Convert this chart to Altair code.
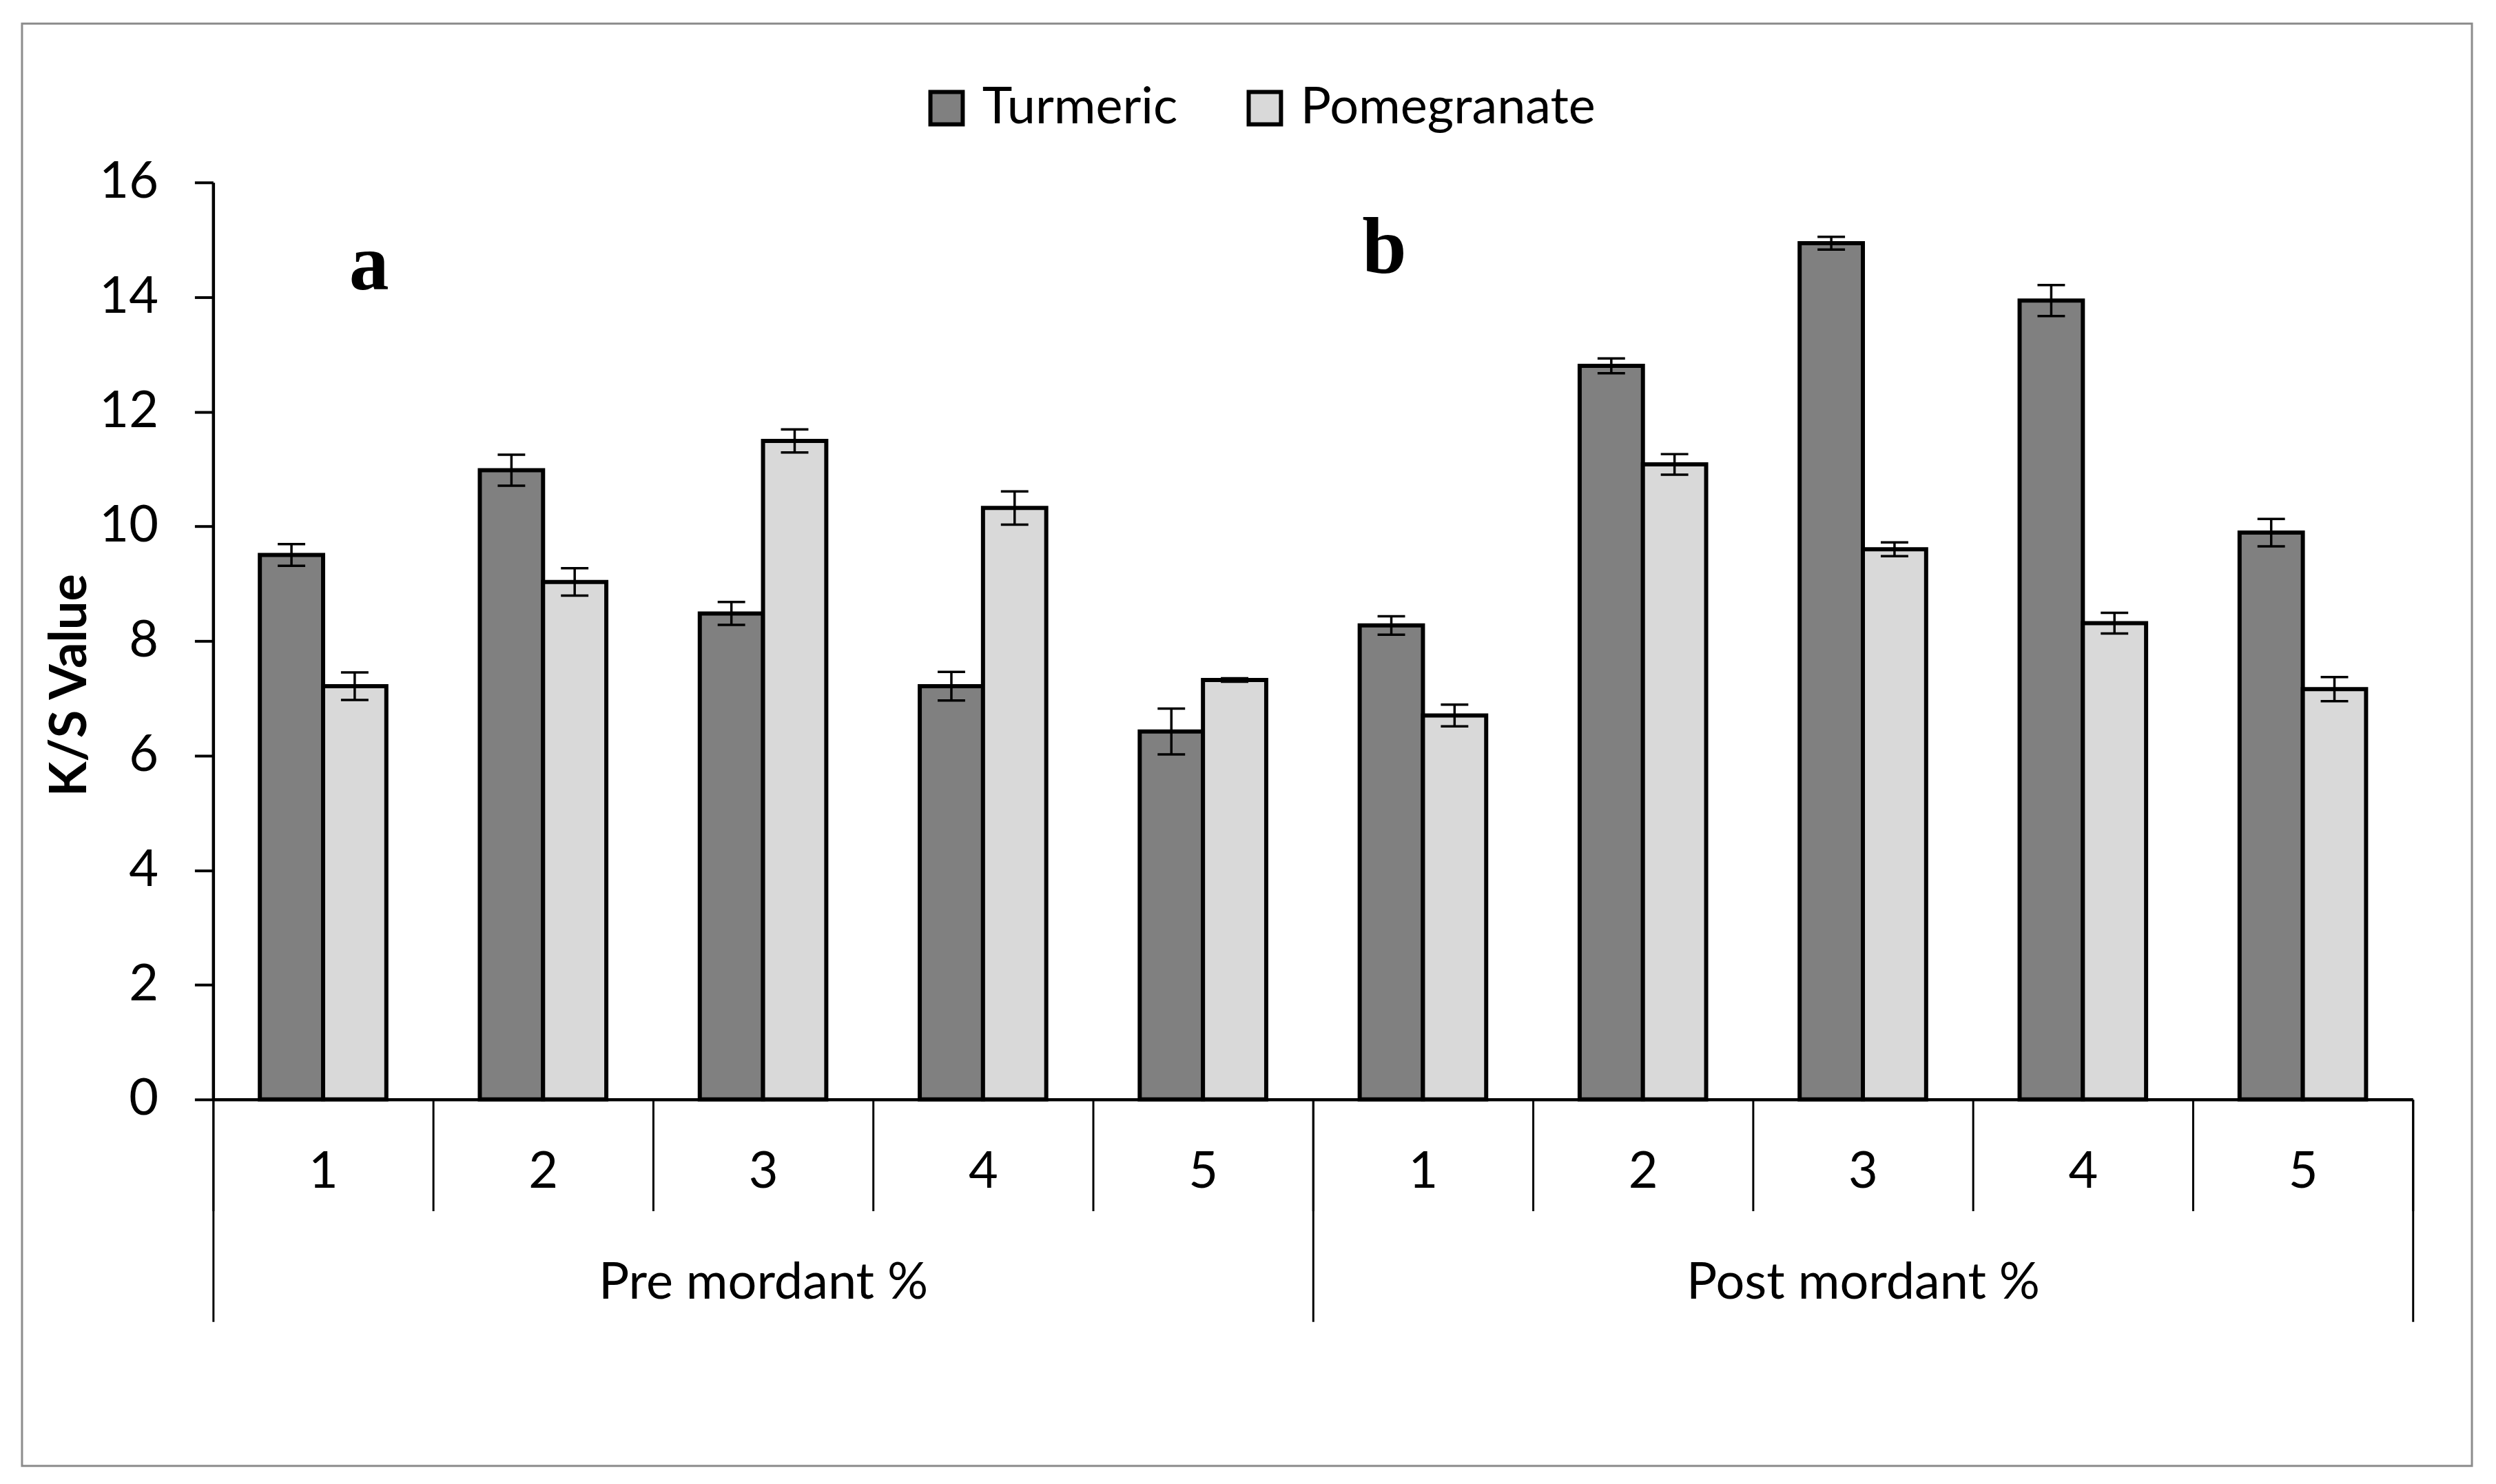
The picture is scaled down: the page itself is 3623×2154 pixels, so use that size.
import altair as alt
import pandas as pd

# ---- data ----
groups = ["Pre mordant %", "Post mordant %"]
levels = ["1", "2", "3", "4", "5"]
series = ["Turmeric", "Pomegranate"]
colors = ["#808080", "#D9D9D9"]

turmeric_pre = [9.50, 10.98, 8.48, 7.21, 6.42]
turmeric_pre_err = [0.19, 0.27, 0.20, 0.25, 0.40]
pomegranate_pre = [7.21, 9.03, 11.49, 10.32, 7.32]
pomegranate_pre_err = [0.24, 0.24, 0.20, 0.29, 0.03]

turmeric_post = [8.27, 12.80, 14.94, 13.94, 9.89]
turmeric_post_err = [0.16, 0.13, 0.11, 0.27, 0.24]
pomegranate_post = [6.70, 11.08, 9.60, 8.31, 7.16]
pomegranate_post_err = [0.19, 0.18, 0.12, 0.18, 0.21]

y_ticks = [0, 2, 4, 6, 8, 10, 12, 14, 16]
panel_labels = ["a", "b"]
panel_label_y = [14.14, 14.42]
panel_label_pos = [0.709, 0.325]

# ---- tables ----
values = {
    ("Pre mordant %", "Turmeric"): (turmeric_pre, turmeric_pre_err),
    ("Pre mordant %", "Pomegranate"): (pomegranate_pre, pomegranate_pre_err),
    ("Post mordant %", "Turmeric"): (turmeric_post, turmeric_post_err),
    ("Post mordant %", "Pomegranate"): (pomegranate_post, pomegranate_post_err),
}
cat_order = [f"{g}|{l}" for g in groups for l in levels]
rows = []
for g in groups:
    for s in series:
        vals, errs = values[(g, s)]
        for l, v, e in zip(levels, vals, errs):
            rows.append({"cat": f"{g}|{l}", "group": g, "series": s,
                         "value": v, "lo": v - e, "hi": v + e})
df = pd.DataFrame(rows)

FONT = "Lato"
FS = 74

inner_axis = alt.Axis(
    orient="bottom", labelExpr="split(datum.label, '|')[1]", labelAngle=0,
    labelFont=FONT, labelFontSize=FS, labelColor="black", labelBaseline="middle",
    labelPadding=-56, labelLimit=2000, tickBand="extent", tickSize=162, tickWidth=3,
    tickColor="black", domainColor="black", domainWidth=4.5, grid=False, title=None,
)
group_axis = alt.Axis(
    orient="bottom", labelAngle=0, labelFont=FONT, labelFontSize=FS, labelColor="black",
    labelBaseline="middle", labelPadding=-56, labelLimit=2000, tickBand="extent",
    tickSize=323, tickWidth=3, tickColor="black", domain=False, grid=False, title=None,
)
y_axis = alt.Axis(
    values=y_ticks, labelFont=FONT, labelFontSize=FS, labelColor="black", labelPadding=53,
    tickSize=27, tickWidth=4, tickColor="black", domainColor="black", domainWidth=4.5,
    grid=False, titleFont=FONT, titleFontWeight="bold", titleFontSize=FS, titleColor="black",
    titleX=-207, titleY=731, titleAngle=270, titleAlign="center", titleBaseline="middle",
)

x_scale = alt.Scale(paddingInner=0, paddingOuter=0)
y_scale = alt.Scale(domain=[0, 16], nice=False, zero=True)
xoff = alt.XOffset("series:N", sort=series, scale=alt.Scale(paddingInner=0, paddingOuter=0.739))


def X():
    return alt.X("cat:N", sort=cat_order, scale=x_scale, axis=inner_axis, title=None)


legend = alt.Legend(
    orient="none", legendX=1030, legendY=-145, direction="horizontal", title=None,
    labelFont=FONT, labelFontSize=FS, labelColor="black", labelLimit=2000,
    symbolType="square", symbolSize=2209, symbolStrokeColor="black", symbolStrokeWidth=6,
    symbolOpacity=1, labelOffset=15, columnPadding=89, padding=0, rowPadding=0,
)

bars = alt.Chart(df).mark_bar(stroke="black", strokeWidth=6).encode(
    x=X(), xOffset=xoff,
    y=alt.Y("value:Q", scale=y_scale, axis=y_axis, title="K/S Value"),
    color=alt.Color("series:N", sort=series,
                    scale=alt.Scale(domain=series, range=colors), legend=legend),
)
err_rule = alt.Chart(df).mark_rule(color="black", strokeWidth=3.5).encode(
    x=X(), xOffset=xoff,
    y=alt.Y("lo:Q", scale=y_scale, axis=y_axis, title="K/S Value"), y2="hi:Q",
)
cap_lo = alt.Chart(df).mark_tick(color="black", thickness=3.5, size=40, opacity=1).encode(
    x=X(), xOffset=xoff,
    y=alt.Y("lo:Q", scale=y_scale, axis=y_axis, title="K/S Value"),
)
cap_hi = alt.Chart(df).mark_tick(color="black", thickness=3.5, size=40, opacity=1).encode(
    x=X(), xOffset=xoff,
    y=alt.Y("hi:Q", scale=y_scale, axis=y_axis, title="K/S Value"),
)

ann_layers = []
for i, (lab, yv, pos) in enumerate(zip(panel_labels, panel_label_y, panel_label_pos)):
    adf = pd.DataFrame({"cat": [cat_order[i * 5]], "y": [yv], "label": [lab]})
    ann_layers.append(
        alt.Chart(adf).mark_text(font="Liberation Serif", fontWeight="bold", fontSize=116,
                                 color="black", align="center", baseline="alphabetic").encode(
            x=alt.X("cat:N", sort=cat_order, scale=x_scale, axis=inner_axis, title=None,
                    bandPosition=pos),
            y=alt.Y("y:Q", scale=y_scale, axis=y_axis, title="K/S Value"),
            text="label:N",
        )
    )

frame = alt.Chart(pd.DataFrame({"k": [0]})).mark_rect(
    fillOpacity=0, stroke="#8c8c8c", strokeWidth=3
).encode(x=alt.value(-278), x2=alt.value(3286), y=alt.value(-231), y2=alt.value(1867))

inner = alt.layer(frame, bars, err_rule, cap_lo, cap_hi, *ann_layers)

grp_df = pd.DataFrame({"group": groups})
grp_layer = alt.Chart(grp_df).mark_point(opacity=0).encode(
    x=alt.X("group:N", sort=groups, scale=alt.Scale(paddingInner=0, paddingOuter=0),
            axis=group_axis, title=None),
)

chart = alt.layer(inner, grp_layer).resolve_scale(x="independent").properties(
    width=3200, height=1334,
    autosize=alt.AutoSizeParams(type="none"),
    padding={"left": 302, "top": 255, "right": 113, "bottom": 553},
    background="white",
).configure_view(strokeWidth=0)

chart.save("out.html", embed_options={"renderer": "svg", "actions": False})
